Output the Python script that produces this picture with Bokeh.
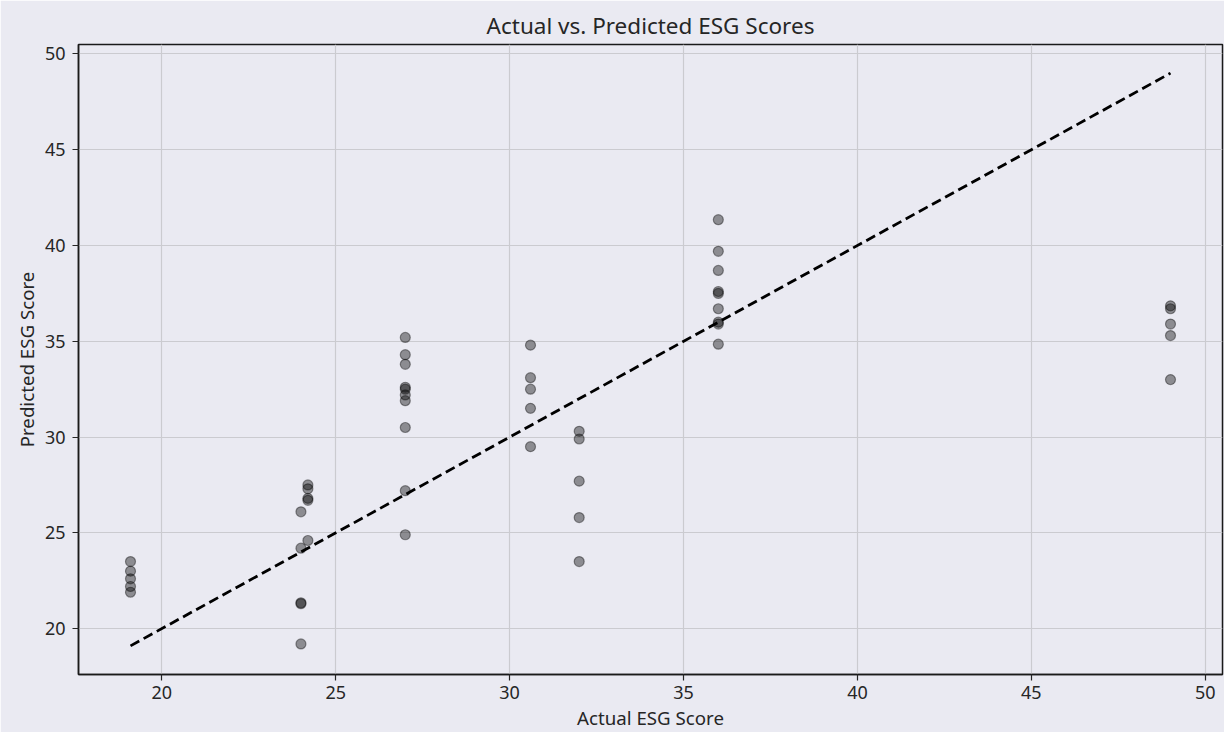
from bokeh.plotting import figure
from bokeh.models import Range1d, FixedTicker, ColumnDataSource
from bokeh.embed import file_html
from bokeh.resources import INLINE

# ---- data ----
actual_19 = [19.1, 19.1, 19.1, 19.1, 19.1]
pred_19 = [23.5, 23.0, 22.6, 22.2, 21.9]
actual_24 = [24.0, 24.0, 24.0, 24.0, 24.0]
pred_24 = [26.1, 24.2, 21.35, 21.3, 19.2]
actual_242 = [24.2, 24.2, 24.2, 24.2, 24.2]
pred_242 = [27.5, 27.3, 26.8, 26.7, 24.6]
actual_27 = [27.0] * 10
pred_27 = [35.2, 34.3, 33.8, 32.6, 32.5, 32.2, 31.9, 30.5, 27.2, 24.9]
actual_306 = [30.6] * 5
pred_306 = [34.8, 33.1, 32.5, 31.5, 29.5]
actual_32 = [32.0] * 5
pred_32 = [30.3, 29.9, 27.7, 25.8, 23.5]
actual_36 = [36.0] * 9
pred_36 = [41.35, 39.7, 38.7, 37.6, 37.5, 36.7, 36.0, 35.9, 34.85]
actual_49 = [49.0] * 5
pred_49 = [36.85, 36.7, 35.9, 35.3, 33.0]

x_ticks = [20, 25, 30, 35, 40, 45, 50]
y_ticks = [20, 25, 30, 35, 40, 45, 50]

actual = actual_19 + actual_24 + actual_242 + actual_27 + actual_306 + actual_32 + actual_36 + actual_49
predicted = pred_19 + pred_24 + pred_242 + pred_27 + pred_306 + pred_32 + pred_36 + pred_49

lo, hi = min(actual), max(actual)
pad = (hi - lo) * 0.05

BG = "#eaeaf2"
FONT = "Noto Sans"
TXT = "#262626"

p = figure(width=1224, height=732, output_backend="svg", toolbar_location=None,
           x_range=Range1d(lo - pad, hi + pad), y_range=Range1d(lo - pad, hi + pad),
           title="Actual vs. Predicted ESG Scores",
           min_border_left=78, min_border_right=2, min_border_top=44, min_border_bottom=55)

p.background_fill_color = BG
p.border_fill_color = BG
p.outline_line_color = "#1a1a1a"
p.outline_line_width = 1.5

p.title.align = "center"
p.title.text_font = FONT
p.title.text_font_size = "22.5px"
p.title.text_font_style = "normal"
p.title.text_color = TXT
p.title.standoff = 7

for ax in (p.xaxis, p.yaxis):
    ax.axis_line_color = "#1a1a1a"
    ax.axis_line_width = 1.5
    ax.major_tick_line_color = TXT
    ax.major_tick_line_width = 1.2
    ax.major_tick_out = 6
    ax.major_tick_in = 0
    ax.minor_tick_line_color = None
    ax.major_label_text_font = FONT
    ax.major_label_text_font_size = "18px"
    ax.major_label_text_color = TXT
    ax.axis_label_text_font = FONT
    ax.axis_label_text_font_size = "18.7px"
    ax.axis_label_text_font_style = "normal"
    ax.axis_label_text_color = TXT

p.xaxis.ticker = FixedTicker(ticks=x_ticks)
p.yaxis.ticker = FixedTicker(ticks=y_ticks)
p.xaxis.axis_label = "Actual ESG Score"
p.yaxis.axis_label = "Predicted ESG Score"
p.xaxis.major_label_standoff = 5
p.yaxis.major_label_standoff = 7
p.xaxis.axis_label_standoff = 3
p.yaxis.axis_label_standoff = 3

p.grid.grid_line_color = "#cbcbd0"
p.grid.grid_line_width = 1.2

src = ColumnDataSource(dict(actual=actual, predicted=predicted))
p.scatter("actual", "predicted", source=src, size=10, fill_color="black", fill_alpha=0.4,
          line_color="black", line_alpha=0.4, line_width=1.2)

p.line([lo, hi], [lo, hi], line_color="black", line_width=2.8, line_dash="10 5")

open("out.html", "w").write(file_html(p, INLINE))
